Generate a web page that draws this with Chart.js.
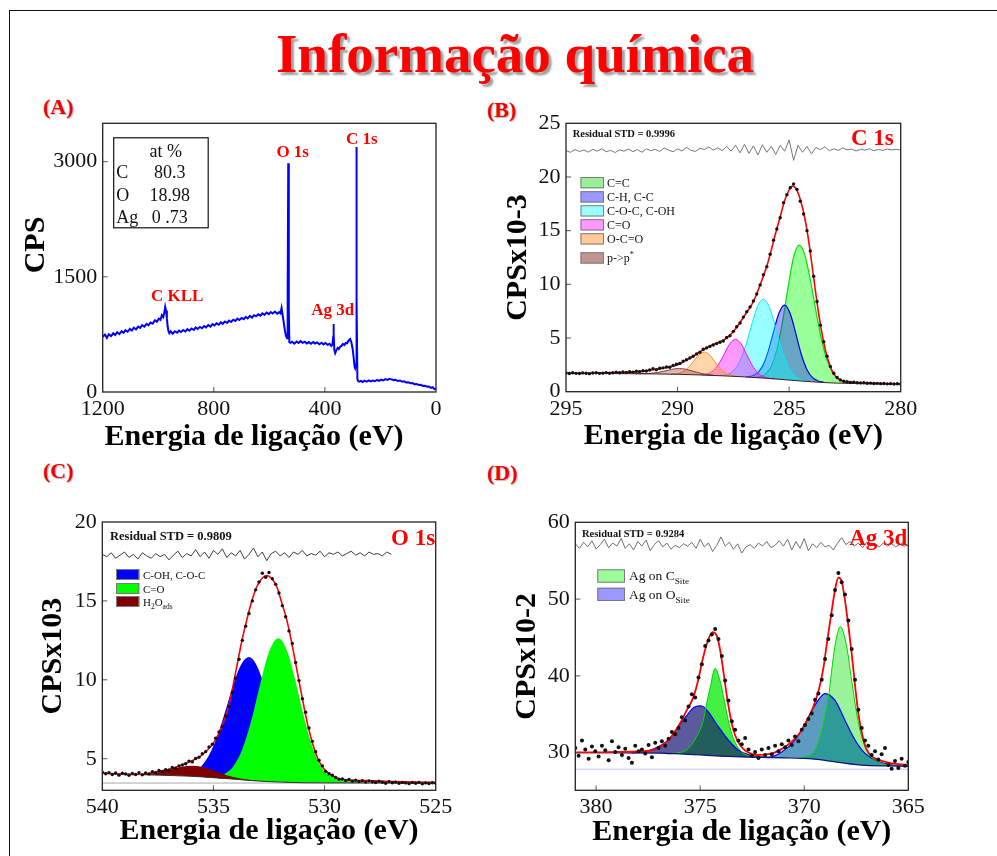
<!DOCTYPE html>
<html lang="pt">
<head>
<meta charset="utf-8">
<title>Informação química</title>
<script src="https://cdn.jsdelivr.net/npm/chart.js@4.4.1/dist/chart.umd.min.js"></script>
<style>
  html, body { margin: 0; padding: 0; background: #fff; }
  body { position: relative; width: 997px; height: 856px; overflow: hidden; }
  .frame { position: absolute; left: 9px; top: 10px; width: 1000px; height: 860px; border-left: 1.5px solid #111; border-top: 1.5px solid #111; }
  .title { position: absolute; left: 515px; top: 26px; transform: translateX(-50%); white-space: nowrap; font: bold 55px/55px 'Liberation Serif', serif; color: #ff0000; text-shadow: 3px 3px 2px #a0a0a0; }
  .tag { position: absolute; font: bold 22px/22px 'Liberation Serif', serif; color: #f00000; text-shadow: 1px 1px 1px #b8b8b8; }
  canvas { position: absolute; }
</style>
</head>
<body>
<div class="frame"></div>
<div class="title">Informação química</div>
<div class="tag" style="left:43px;top:96px">(A)</div>
<div class="tag" style="left:487px;top:99px">(B)</div>
<div class="tag" style="left:43px;top:460px">(C)</div>
<div class="tag" style="left:487px;top:462px">(D)</div>
<canvas id="survey" width="460" height="356" style="left:0;top:100px"></canvas>
<canvas id="c1s" width="517" height="356" style="left:480px;top:100px"></canvas>
<canvas id="o1s" width="460" height="386" style="left:0;top:470px"></canvas>
<canvas id="ag3d" width="517" height="386" style="left:480px;top:470px"></canvas>
<script>
const FONT = "'Liberation Serif', 'DejaVu Serif', serif";

// ---- (A) survey spectrum: [binding energy eV, CPS] ----
const surveyTicksX = [1200, 800, 400, 0];
const surveyTicksY = [0, 1500, 3000];
const survey = [
  [1200,720],[1192,748],[1185,705],[1178,752],[1170,728],[1162,765],[1155,742],[1148,778],[1140,755],[1132,792],
  [1125,770],[1118,805],[1110,785],[1102,822],[1095,800],[1088,838],[1080,815],[1072,852],[1065,835],[1058,870],
  [1050,852],[1042,888],[1035,868],[1028,905],[1020,890],[1012,935],[1005,915],[998,955],[992,940],[987,1000],
  [982,975],[978,1040],[975,1110],[972,1060],[969,960],[966,850],[963,790],[960,765],[955,790],[948,760],
  [940,792],[932,772],[925,800],[918,782],[910,808],[902,788],[895,818],[888,798],[880,828],[872,808],
  [865,840],[858,820],[850,848],[842,830],[835,860],[828,842],[820,872],[812,852],[805,885],[798,866],
  [790,895],[782,876],[775,908],[768,888],[760,918],[752,900],[745,930],[738,912],[730,942],[722,925],
  [715,955],[708,938],[700,965],[692,948],[685,978],[678,958],[670,992],[662,970],[655,1000],[648,985],
  [640,1012],[632,995],[625,1025],[618,1005],[610,1035],[602,1015],[595,1042],[588,1022],[580,1048],[572,1020],
  [565,1040],[560,1025],[556,1095],[552,1000],[548,900],[544,800],[540,730],[536,700],[534,1300],[532,2980],
  [530,1100],[528,650],[524,640],[518,655],[510,630],[502,658],[495,638],[488,662],[480,640],[472,655],
  [465,632],[458,650],[450,628],[442,652],[435,632],[428,645],[420,622],[412,642],[405,620],[398,638],
  [390,615],[383,628],[377,600],[373,615],[370,720],[369,885],[368,760],[366,545],[363,505],[358,550],
  [354,575],[350,560],[345,590],[340,600],[335,625],[330,612],[325,640],[320,635],[316,662],[312,680],
  [309,690],[305,650],[300,560],[296,430],[293,330],[291,310],[288,360],[287,1500],[286,3190],[285,1200],
  [283,170],[280,140],[276,135],[270,145],[264,130],[258,148],[250,135],[242,152],[235,138],[228,150],
  [220,140],[212,158],[205,145],[198,160],[190,150],[182,168],[175,158],[168,172],[160,165],[153,155],
  [146,160],[138,145],[130,150],[122,135],[115,140],[108,125],[100,128],[92,115],[85,118],[78,102],
  [70,105],[62,92],[55,95],[48,80],[40,82],[32,70],[25,72],[18,55],[12,62],[6,38],[0,45]
];
const surveyPeaks = [
  { text: 'C KLL', e: 932, cps: 1237 },
  { text: 'O 1s', e: 516, cps: 3113 },
  { text: 'Ag 3d', e: 372, cps: 1062 },
  { text: 'C 1s', e: 267, cps: 3282 }
];
const composition = [['C', '80.3'], ['O', '18.98'], ['Ag', '0 .73']];

// ---- (B) C 1s ----
const c1sTicksX = [295, 290, 285, 280];
const c1sTicksY = [0, 5, 10, 15, 20, 25];
// measured counts, 295 -> 280 eV every 0.15 eV
const c1sCounts = [
  1.74, 1.70, 1.76, 1.71, 1.69, 1.75, 1.72, 1.68, 1.74, 1.77,
  1.71, 1.73, 1.78, 1.72, 1.76, 1.81, 1.77, 1.83, 1.80, 1.86,
  1.82, 1.90, 1.87, 1.95, 1.93, 2.02, 2.15, 2.05, 2.18, 2.22,
  2.30, 2.28, 2.45, 2.55, 2.62, 2.85, 2.98, 3.15, 3.30, 3.52,
  3.68, 3.95, 4.08, 4.22, 4.35, 4.48, 4.60, 4.72, 5.05, 5.20,
  5.62, 6.05, 6.40, 6.95, 7.45, 7.90, 8.45, 9.10, 9.95, 10.90,
  11.65, 12.80, 14.10, 15.15, 16.20, 17.60, 18.35, 19.00, 19.35, 18.85,
  17.75, 16.55, 15.00, 13.10, 10.75, 8.40, 6.20, 4.65, 3.30, 2.35,
  1.72, 1.32, 1.10, 0.98, 0.92, 0.86, 0.88, 0.83, 0.82, 0.84,
  0.79, 0.80, 0.76, 0.78, 0.75, 0.76, 0.73, 0.75, 0.72, 0.74,
  0.71
];
// residual trace, 295 -> 280 eV every 0.2 eV
const c1sResidual = [
  22.45, 22.30, 22.55, 22.38, 22.50, 22.32, 22.58, 22.40, 22.62, 22.35,
  22.48, 22.28, 22.52, 22.40, 22.60, 22.36, 22.55, 22.30, 22.62, 22.45,
  22.58, 22.38, 22.70, 22.50, 22.35, 22.62, 22.42, 22.75, 22.48, 22.38,
  22.68, 22.55, 22.80, 22.50, 22.72, 22.45, 22.85, 22.40, 22.95, 22.25,
  23.05, 22.20, 22.90, 22.05, 23.00, 22.30, 22.85, 22.10, 22.95, 22.40,
  23.45, 21.55, 22.95, 22.30, 22.85, 22.15, 22.75, 22.55, 22.80, 22.45,
  22.62, 22.48, 22.70, 22.52, 22.60, 22.42, 22.58, 22.50, 22.62, 22.45,
  22.56, 22.48, 22.60, 22.52, 22.58, 22.50
];
const c1sFit = [
  [295,1.72],[294,1.72],[293,1.75],[292,1.83],[291.5,1.92],[291,2.06],[290.5,2.25],[290,2.52],[289.5,3.05],[289,3.70],
  [288.7,4.10],[288.4,4.40],[288.1,4.65],[287.8,5.00],[287.5,5.60],[287.2,6.45],[286.9,7.40],[286.6,8.40],[286.3,9.95],[286.0,11.70],
  [285.8,13.20],[285.6,14.80],[285.4,16.30],[285.2,17.80],[285.0,18.80],[284.85,19.15],[284.7,18.95],[284.5,17.90],[284.3,16.20],[284.1,13.70],
  [283.9,10.60],[283.7,7.60],[283.5,5.10],[283.3,3.25],[283.1,2.05],[282.9,1.40],[282.6,1.02],[282.2,0.88],[281.5,0.80],[281,0.77],[280,0.72]
];
const c1sBackground = [
  [295,1.70],[293,1.69],[291,1.66],[290,1.62],[289,1.56],[288,1.48],[287,1.38],[286,1.25],[285.5,1.17],
  [285,1.08],[284.5,1.00],[284,0.93],[283.5,0.86],[283,0.81],[282,0.76],[281,0.73],[280,0.72]
];
const c1sCC = [[286.55,1.33],[286.30,1.40],[286.05,1.66],[285.80,2.37],[285.55,3.89],[285.30,6.45],[285.05,9.70],[284.80,12.53],[284.55,13.66],
  [284.30,12.75],[284.05,10.43],[283.80,7.53],[283.55,4.88],[283.30,2.94],[283.05,1.77],[282.80,1.18],[282.55,0.91],[282.30,0.81]];
const c1sCH = [[286.95,1.37],[286.70,1.45],[286.45,1.70],[286.20,2.36],[285.95,3.69],[285.70,5.58],[285.45,7.35],[285.20,8.07],
  [284.95,7.26],[284.70,5.41],[284.45,3.44],[284.20,2.05],[283.95,1.31],[283.70,1.00],[283.45,0.88]];
const c1sCOC = [[288.15,1.49],[287.90,1.54],[287.65,1.71],[287.40,2.18],[287.15,3.12],[286.90,4.62],[286.65,6.45],[286.40,8.01],[286.15,8.61],
  [285.90,7.94],[285.65,6.32],[285.40,4.42],[285.15,2.85],[284.90,1.84],[284.65,1.31],[284.40,1.08],[284.15,0.96]];
const c1sCO = [[288.90,1.55],[288.65,1.67],[288.40,1.97],[288.15,2.60],[287.90,3.55],[287.65,4.49],[287.40,4.88],
  [287.15,4.44],[286.90,3.45],[286.65,2.44],[286.40,1.75],[286.15,1.40],[285.90,1.25],[285.65,1.19]];
const c1sOCO = [[290.30,1.64],[290.05,1.67],[289.80,1.82],[289.55,2.18],[289.30,2.79],[289.05,3.42],[288.80,3.69],
  [288.55,3.39],[288.30,2.72],[288.05,2.08],[287.80,1.68],[287.55,1.51],[287.30,1.43]];
const c1sPi = [[291.90,1.67],[291.40,1.68],[291.15,1.72],[290.90,1.78],[290.65,1.89],[290.40,2.01],[290.15,2.12],[289.90,2.15],
  [289.65,2.10],[289.40,1.96],[289.15,1.82],[288.90,1.68],[288.65,1.60],[288.40,1.53]];
const c1sNames = ['C=C', 'C-H, C-C', 'C-O-C, C-OH', 'C=O', 'O-C=O', 'p->p'];

// ---- (C) O 1s ----
const o1sTicksX = [540, 535, 530, 525];
const o1sTicksY = [5, 10, 15, 20];
// measured counts, 540 -> 525 eV every 0.15 eV
const o1sCounts = [
  4.15, 4.05, 4.12, 4.00, 4.10, 3.96, 4.08, 4.03, 3.95, 4.06,
  4.00, 4.12, 3.98, 4.10, 4.04, 4.18, 4.12, 4.25, 4.20, 4.31,
  4.27, 4.45, 4.38, 4.55, 4.60, 4.68, 4.85, 4.80, 5.02, 5.10,
  5.32, 5.45, 5.75, 5.92, 6.30, 6.70, 7.05, 7.70, 8.30, 9.20,
  10.10, 11.30, 12.50, 13.40, 14.20, 15.00, 15.70, 16.20, 16.75, 16.50,
  16.80, 16.40, 16.05, 15.50, 14.70, 14.00, 13.10, 12.30, 11.10, 9.95,
  8.80, 7.95, 6.95, 6.10, 5.45, 4.90, 4.55, 4.20, 4.05, 3.95,
  3.82, 3.70, 3.72, 3.62, 3.68, 3.58, 3.64, 3.55, 3.61, 3.52,
  3.60, 3.54, 3.49, 3.57, 3.51, 3.45, 3.55, 3.48, 3.52, 3.44,
  3.50, 3.47, 3.42, 3.49, 3.45, 3.50, 3.41, 3.47, 3.43, 3.48,
  3.44
];
// residual trace, 540 -> 525 eV every 0.2 eV
const o1sResidual = [
  17.95, 17.80, 18.05, 17.70, 17.90, 18.10, 17.75, 17.95, 17.65, 18.05,
  17.85, 17.70, 18.00, 17.80, 17.95, 17.60, 17.90, 18.15, 17.75, 18.00,
  17.85, 18.25, 17.80, 18.10, 17.70, 18.20, 17.95, 18.30, 17.75, 18.05,
  17.85, 18.20, 17.65, 17.95, 18.35, 17.80, 18.10, 17.55, 18.00, 18.15,
  17.85, 18.05, 17.75, 18.10, 17.95, 18.20, 17.85, 18.00, 17.90, 18.15,
  17.80, 18.05, 17.95, 18.10, 17.85, 18.00, 18.15, 17.90, 18.05, 17.85,
  18.10, 17.95, 18.00, 17.85, 18.10, 17.95
];
const o1sFit = [
  [540,4.09],[539,4.02],[538.6,4.00],[538,4.05],[537.4,4.20],[536.8,4.42],[536.2,4.73],[535.6,5.15],[535.0,5.99],[534.7,6.80],
  [534.4,7.89],[534.15,9.40],[533.95,10.84],[533.7,12.60],[533.5,13.80],[533.25,15.10],[533.05,15.90],[532.8,16.45],[532.6,16.60],[532.4,16.45],
  [532.15,15.90],[531.95,15.00],[531.7,13.80],[531.5,12.50],[531.33,11.27],[531.15,9.90],[530.96,8.53],[530.75,7.10],[530.5,5.78],[530.3,5.00],
  [530.06,4.41],[529.8,4.05],[529.46,3.78],[529.0,3.66],[528.1,3.61],[527,3.56],[526,3.52],[525,3.50]
];
const o1sBackground = [
  [540,4.07],[539,4.02],[538,3.98],[537,3.94],[536,3.89],[535.5,3.85],[535,3.80],[534.5,3.75],[534,3.70],
  [533.5,3.64],[533,3.59],[532.5,3.55],[532,3.52],[531.5,3.50],[531,3.48],[530,3.47],[525,3.46]
];
const o1sOffset = [[540,3.46],[525,3.46]];
const o1sCOH = [[536.8,3.91],[536.4,3.94],[536.0,4.10],[535.6,4.44],[535.2,5.22],[534.8,6.53],[534.4,8.32],[534.0,10.14],[533.7,11.09],[533.4,11.44],
  [533.1,11.04],[532.8,10.02],[532.4,8.13],[532.0,6.27],[531.6,4.90],[531.2,4.08],[530.8,3.69],[530.4,3.53]];
const o1sCO = [[535.3,3.85],[534.9,3.87],[534.5,4.04],[534.1,4.53],[533.7,5.60],[533.3,7.41],[532.9,9.71],[532.5,11.77],[532.08,12.64],
  [531.7,11.88],[531.3,9.86],[530.9,7.49],[530.5,5.56],[530.1,4.37],[529.7,3.87],[529.3,3.67],[528.9,3.57],[528.5,3.52],[528.0,3.47]];
const o1sH2O = [[539.4,4.04],[539.0,4.03],[538.5,4.02],[538.0,4.05],[537.5,4.15],[537.0,4.31],[536.5,4.48],[535.9,4.56],
  [535.4,4.44],[534.9,4.20],[534.4,3.96],[533.9,3.78],[533.4,3.67],[532.9,3.59],[532.4,3.55]];
const o1sNames = ['C-OH, C-O-C', 'C=O'];

// ---- (D) Ag 3d ----
const ag3dTicksX = [380, 375, 370, 365];
const ag3dTicksY = [30, 40, 50, 60];
// measured counts, 381 -> 365 eV every 0.16 eV
const ag3dCounts = [
  30.6, 29.6, 31.6, 30.4, 29.2, 30.8, 30.2, 29.5, 30.9, 30.3,
  29.0, 31.5, 30.1, 30.7, 29.7, 30.5, 29.3, 28.7, 30.9, 30.2,
  30.4, 29.9, 31.0, 29.4, 31.3, 30.6, 31.5, 30.9, 31.8, 32.7,
  32.4, 33.2, 34.6, 34.2, 36.0, 37.6, 37.2, 39.8, 41.5, 43.9,
  44.6, 45.4, 46.1, 44.8, 42.6, 39.4, 36.8, 34.1, 33.0, 31.6,
  31.1, 31.9, 30.4, 29.6, 30.1, 29.3, 30.4, 29.7, 30.6, 29.8,
  30.9, 30.2, 31.1, 30.7, 31.6, 31.0, 32.1, 31.5, 33.0, 33.6,
  34.4, 35.1, 36.9, 37.7, 39.5, 42.2, 44.8, 47.9, 51.2, 53.4,
  52.2, 50.6, 47.2, 43.5, 39.5, 35.6, 33.2, 31.6, 30.9, 29.7,
  30.2, 29.1, 29.8, 30.6, 28.4, 27.9, 28.9, 28.0, 29.2, 28.3,
  28.8
];
// residual trace, 381 -> 365 eV every 0.2 eV
const ag3dResidual = [
  57.2, 56.6, 57.4, 56.8, 57.6, 56.5, 57.1, 57.8, 56.7, 57.3,
  56.9, 57.9, 56.6, 57.2, 56.4, 57.5, 56.9, 57.7, 56.3, 57.1,
  57.6, 56.8, 57.3, 56.5, 57.0, 56.7, 57.2, 56.9, 57.4, 56.6,
  57.8, 56.8, 57.3, 56.2, 57.0, 58.1, 56.9, 57.4, 56.5, 57.2,
  56.0, 56.8, 57.1, 56.6, 57.3, 56.9, 57.5, 56.7, 57.0, 57.6,
  56.9, 57.8, 56.4, 57.5, 56.6, 57.9, 56.3, 57.2, 56.7, 57.4,
  56.8, 57.0, 56.4, 57.3, 58.0, 57.1, 57.5, 56.9, 57.3, 56.7,
  57.4, 56.9, 57.2, 56.8, 57.3, 56.9, 57.2, 56.8, 57.1, 56.9,
  57.0
];
const ag3dFit = [
  [381,30.05],[380,30.05],[379,30.1],[378,30.15],[377.25,30.35],[376.9,30.8],[376.6,31.43],[376.3,32.4],[375.97,33.8],[375.65,35.5],
  [375.33,37.2],[375.1,39.4],[374.85,42.5],[374.6,44.8],[374.4,45.7],[374.2,45.2],[374.05,43.5],[373.88,40.5],[373.73,37.6],[373.57,35.0],
  [373.41,33.0],[373.2,31.5],[372.93,30.5],[372.6,29.9],[372.29,29.7],[371.9,29.75],[371.49,29.95],[371.2,30.3],[370.84,30.9],[370.5,31.7],
  [370.2,32.6],[369.9,34.0],[369.56,36.0],[369.3,38.2],[369.08,41.0],[368.9,44.5],[368.68,48.5],[368.5,51.5],[368.36,52.8],[368.2,52.3],
  [368.04,49.8],[367.88,46.5],[367.72,42.9],[367.56,38.8],[367.4,35.1],[367.2,32.2],[367.0,30.4],[366.7,29.4],[366.36,29.0],[366.0,28.75],
  [365.5,28.5],[365,28.4]
];
const ag3dBackground = [
  [381,30.0],[377,29.95],[376,29.85],[375,29.7],[374,29.55],[373,29.45],[372,29.38],[371,29.32],[370,29.25],
  [369.5,29.15],[369,29.0],[368.5,28.8],[368,28.6],[367.5,28.45],[367,28.35],[366,28.28],[365,28.25]
];
const ag3dOffset = [[381,27.85],[365,27.85]];
const ag3dOSite32 = [[378.3,29.97],[377.8,30.10],[377.17,30.57],[376.53,31.65],[376.05,33.4],[375.57,35.1],[375.3,35.9],[375.0,36.1],
  [374.8,35.9],[374.61,35.3],[374.13,33.4],[373.65,31.65],[373.17,30.35],[372.69,29.75],[372.2,29.45],[371.7,29.35]];
const ag3dCSite32 = [[376.6,29.82],[376.2,29.95],[375.65,30.35],[375.17,32.1],[374.85,34.2],[374.69,36.4],[374.51,38.57],[374.29,40.96],
  [374.05,39.4],[373.84,36.8],[373.65,34.2],[373.41,31.9],[373.09,30.35],[372.69,29.6],[372.2,29.42]];
const ag3dOSite52 = [[372.2,29.38],[371.7,29.42],[371.08,30.1],[370.44,31.65],[369.96,33.8],[369.48,36.2],[369.0,37.7],
  [368.52,36.8],[368.04,34.2],[367.56,31.65],[367.08,29.9],[366.6,29.05],[366.0,28.5],[365.5,28.3],[365.0,28.26]];
const ag3dCSite52 = [[370.3,29.22],[369.96,29.4],[369.48,30.35],[369.16,32.9],[368.81,37.7],[368.68,40.74],[368.53,43.8],[368.27,46.4],
  [367.96,43.8],[367.72,39.4],[367.48,35.1],[367.24,32.1],[366.92,29.9],[366.44,28.8],[366.0,28.4],[365.5,28.3]];

// ---- helpers ----
const pts = list => list.map(([x, y]) => ({ x, y }));
const channels = (start, step, values) => values.map((y, i) => ({ x: start - i * step, y }));

function xAxis(min, max, ticks, height, title) {
  return {
    type: 'linear', reverse: true, min, max,
    afterBuildTicks: s => { s.ticks = ticks.map(v => ({ value: v })); },
    afterFit: s => { s.height = height; },
    grid: { display: false, drawTicks: false },
    border: { display: false },
    ticks: { color: '#111', font: { family: FONT, size: 22 }, padding: 4, maxRotation: 0, autoSkip: false, callback: v => String(v) },
    title: { display: !!title, text: title, color: '#000', font: { family: FONT, size: 30, weight: 'bold' }, padding: 0 }
  };
}
function yAxis(min, max, ticks, width, title) {
  return {
    type: 'linear', min, max,
    afterBuildTicks: s => { s.ticks = ticks.map(v => ({ value: v })); },
    afterFit: s => { s.width = width; },
    grid: { display: false, drawTicks: false },
    border: { display: false },
    ticks: { color: '#111', font: { family: FONT, size: 22 }, padding: 5.5, autoSkip: false, callback: v => String(v) },
    title: { display: !!title, text: title, color: '#000', font: { family: FONT, size: 30, weight: 'bold' }, padding: 0 }
  };
}
function options(padding, x, y) {
  return {
    responsive: false, animation: false, events: [],
    layout: { padding },
    scales: { x, y },
    plugins: { legend: { display: false }, tooltip: { enabled: false } }
  };
}
function line(data, color, width, order, extra) {
  return Object.assign({ data, borderColor: color, borderWidth: width, pointRadius: 0, fill: false, order }, extra || {});
}
function peak(data, color, width, fillColor, fill, order) {
  return { data: pts(data), borderColor: color, borderWidth: width, backgroundColor: fillColor, fill,
    pointRadius: 0, cubicInterpolationMode: 'monotone', order };
}
function dots(data, radius, order) {
  return { data, showLine: false, pointRadius: radius, pointBackgroundColor: '#111', pointBorderWidth: 0, order };
}
function label(ctx, str, x, y, font, color, align, baseline) {
  ctx.font = font; ctx.fillStyle = color;
  ctx.textAlign = align || 'left'; ctx.textBaseline = baseline || 'alphabetic';
  ctx.fillText(str, x, y);
  return ctx.measureText(str).width;
}
function rich(ctx, parts, x, y, size, color) {
  let cx = x;
  parts.forEach(([s, kind]) => {
    const f = kind ? size * 0.68 : size;
    const dy = kind === 'sub' ? size * 0.28 : kind === 'sup' ? -size * 0.45 : 0;
    cx += label(ctx, s, cx, y + dy, `${f}px ${FONT}`, color);
  });
}
function swatch(ctx, x, y, w, h, fill) {
  ctx.fillStyle = fill; ctx.fillRect(x, y, w, h);
  ctx.strokeStyle = '#7a7a7a'; ctx.lineWidth = 1; ctx.strokeRect(x + 0.5, y + 0.5, w - 1, h - 1);
}

// inward tick marks and the plot frame
const framePlugin = {
  id: 'frame',
  afterDatasetsDraw(chart) {
    const { ctx, chartArea: a, scales: { x, y } } = chart;
    ctx.save();
    ctx.strokeStyle = '#555'; ctx.lineWidth = 1;
    ctx.beginPath();
    x.ticks.forEach(t => {
      const px = x.getPixelForValue(t.value);
      if (px > a.left + 2 && px < a.right - 2) { ctx.moveTo(px, a.bottom); ctx.lineTo(px, a.bottom - 5); }
    });
    y.ticks.forEach(t => {
      const py = y.getPixelForValue(t.value);
      if (py > a.top + 2 && py < a.bottom - 2) { ctx.moveTo(a.left, py); ctx.lineTo(a.left + 5, py); }
    });
    ctx.stroke();
    ctx.strokeStyle = '#222'; ctx.lineWidth = 1.3;
    ctx.strokeRect(a.left, a.top, a.right - a.left, a.bottom - a.top);
    ctx.restore();
  }
};

// ---- (A) ----
const surveyNotes = {
  id: 'surveyNotes',
  afterDraw(chart) {
    const { ctx, chartArea: a, scales: { x, y } } = chart;
    ctx.save();
    surveyPeaks.forEach(p => label(ctx, p.text, x.getPixelForValue(p.e), y.getPixelForValue(p.cps),
      `bold 17px ${FONT}`, '#ff0000', 'center', 'middle'));
    const bx = a.left + 11, by = a.top + 14.5;
    ctx.strokeStyle = '#111'; ctx.lineWidth = 1.2;
    ctx.strokeRect(bx, by, 94.5, 90);
    label(ctx, 'at %', bx + 52, by + 19.5, `18px ${FONT}`, '#111', 'center');
    composition.forEach(([el, v], i) => {
      label(ctx, el, bx + 2.5, by + 40.5 + i * 22.5, `18px ${FONT}`, '#111');
      label(ctx, v, bx + 56, by + 40.5 + i * 22.5, `18px ${FONT}`, '#111', 'center');
    });
    // axis titles sit a little off-centre in the original
    label(ctx, 'Energia de ligação (eV)', a.left + 151.3, a.bottom + 52.5, `bold 30px ${FONT}`, '#000', 'center');
    ctx.translate(a.left - 66.7, a.top + 121.7);
    ctx.rotate(-Math.PI / 2);
    label(ctx, 'CPS', 0, 0, `bold 30px ${FONT}`, '#000', 'center', 'middle');
    ctx.restore();
  }
};

new Chart(document.getElementById('survey'), {
  type: 'line',
  data: { datasets: [line(pts(survey), '#0000ff', 2, 0)] },
  options: options({ left: 19.2, right: 24, top: 23.3, bottom: 1 },
    xAxis(0, 1200, surveyTicksX, 63, ''), yAxis(0, 3500, surveyTicksY, 83.5, '')),
  plugins: [framePlugin, surveyNotes]
});

// ---- (B) ----
const c1sSwatches = ['#99f099', '#9999ff', '#99ffff', '#ff99ff', '#ffcc99', '#c49494'];
const c1sNotes = {
  id: 'c1sNotes',
  afterDraw(chart) {
    const { ctx, chartArea: a } = chart;
    ctx.save();
    label(ctx, 'Residual STD = 0.9996', a.left + 6.7, a.top + 13.7, `bold 10.5px ${FONT}`, '#111');
    label(ctx, 'C 1s', a.right - 7, a.top + 21.7, `bold 23px ${FONT}`, '#ff0000', 'right');
    const rows = [53.7, 67.9, 81.9, 95.9, 109.9, 129];
    c1sNames.forEach((name, i) => {
      const top = a.top + rows[i];
      swatch(ctx, a.left + 14.5, top, 23.5, 11.3, c1sSwatches[i]);
      const parts = i === 5 ? [[name], ['*', 'sup']] : [[name]];
      rich(ctx, parts, a.left + 41, top + 10, 12, '#111');
    });
    ctx.restore();
  }
};

new Chart(document.getElementById('c1s'), {
  type: 'line',
  data: { datasets: [
    line(pts(c1sBackground), '#3b2020', 1, 2.5, { cubicInterpolationMode: 'monotone' }),
    dots(channels(295, 0.15, c1sCounts), 1.7, 0),
    line(pts(c1sFit), '#ff0000', 1.6, 1, { cubicInterpolationMode: 'monotone' }),
    line(channels(295, 0.2, c1sResidual), '#777', 1, 2),
    peak(c1sPi, '#8b3a3a', 1, 'rgba(139,58,58,0.35)', 0, 3),
    peak(c1sOCO, '#ff8c1a', 1, 'rgba(255,150,40,0.4)', 0, 4),
    peak(c1sCO, '#ff00ff', 1, 'rgba(255,0,255,0.4)', 0, 5),
    peak(c1sCOC, '#00e8ff', 1, 'rgba(0,255,255,0.4)', 0, 6),
    peak(c1sCH, '#0000dd', 1.2, 'rgba(30,30,255,0.4)', 0, 7),
    peak(c1sCC, '#00e000', 1.2, 'rgba(0,255,0,0.4)', 0, 8)
  ] },
  options: options({ left: 20, right: 96.3, top: 23.3, bottom: 1.6 },
    xAxis(280, 295, c1sTicksX, 62.7, 'Energia de ligação (eV)'), yAxis(0, 25, c1sTicksY, 66, 'CPSx10-3')),
  plugins: [framePlugin, c1sNotes]
});

// ---- (C) ----
const o1sNotes = {
  id: 'o1sNotes',
  afterDraw(chart) {
    const { ctx, chartArea: a } = chart;
    ctx.save();
    label(ctx, 'Residual STD = 0.9809', a.left + 7.7, a.top + 18, `bold 12.5px ${FONT}`, '#111');
    label(ctx, 'O 1s', a.right - 0.5, a.top + 23, `bold 23px ${FONT}`, '#ff0000', 'right');
    const rows = [47, 61, 74];
    const fills = ['#0000ff', '#00ff00', '#800000'];
    const names = [[[o1sNames[0]]], [[o1sNames[1]]], [['H'], ['2', 'sub'], ['O'], ['ads', 'sub']]];
    rows.forEach((r, i) => {
      swatch(ctx, a.left + 13.7, a.top + r, 23.3, 11, fills[i]);
      rich(ctx, names[i], a.left + 40.7, a.top + r + 9.5, 11, '#111');
    });
    ctx.restore();
  }
};

new Chart(document.getElementById('o1s'), {
  type: 'line',
  data: { datasets: [
    line(pts(o1sBackground), '#333', 1, 3, { cubicInterpolationMode: 'monotone' }),
    dots(channels(540, 0.15, o1sCounts), 1.7, 0),
    line(pts(o1sFit), '#ff0000', 1.6, 1, { cubicInterpolationMode: 'monotone' }),
    line(channels(540, 0.2, o1sResidual), '#3c3c3c', 1, 2),
    line(pts(o1sOffset), '#aaa', 1, 3.5),
    peak(o1sH2O, '#800000', 0, '#800000', 0, 4),
    peak(o1sCO, '#00ff00', 0, '#00ff00', 0, 5),
    peak(o1sCOH, '#0000ff', 0, '#0000ff', 0, 6)
  ] },
  options: options({ left: 35, right: 24.3, top: 52, bottom: 6.6 },
    xAxis(525, 540, o1sTicksX, 59.1, 'Energia de ligação (eV)'), yAxis(3.0, 20, o1sTicksY, 67.3, 'CPSx103')),
  plugins: [framePlugin, o1sNotes]
});

// ---- (D) ----
const ag3dNotes = {
  id: 'ag3dNotes',
  afterDraw(chart) {
    const { ctx, chartArea: a } = chart;
    ctx.save();
    label(ctx, 'Residual STD = 0.9284', a.left + 6.7, a.top + 14.7, `bold 10.5px ${FONT}`, '#111');
    label(ctx, 'Ag 3d', a.right - 1, a.top + 23, `bold 23px ${FONT}`, '#ff0000', 'right');
    swatch(ctx, a.left + 22, a.top + 47, 27.7, 13.4, '#99ff99');
    swatch(ctx, a.left + 22, a.top + 65.4, 27.7, 13.3, '#9999ff');
    rich(ctx, [['Ag on C'], ['Site', 'sub']], a.left + 53.7, a.top + 58, 13.5, '#111');
    rich(ctx, [['Ag on O'], ['Site', 'sub']], a.left + 53.7, a.top + 76.5, 13.5, '#111');
    ctx.restore();
  }
};

const clear = 'rgba(0,0,0,0)';
new Chart(document.getElementById('ag3d'), {
  type: 'line',
  data: { datasets: [
    line(pts(ag3dBackground), '#10107a', 1.2, 3, { cubicInterpolationMode: 'monotone' }),
    dots(channels(381, 0.16, ag3dCounts), 2, 0),
    line(pts(ag3dFit), '#ff0000', 1.8, 1, { cubicInterpolationMode: 'monotone' }),
    line(channels(381, 0.2, ag3dResidual), '#707070', 1, 2),
    line(pts(ag3dOffset), '#c4c4f2', 1, 3.5),
    // 5-7: 3d3/2 doublet fills
    peak(ag3dOSite32, clear, 0, '#5a5a9c', 0, 13),
    peak(ag3dCSite32, clear, 0, '#215e5c', 0, 12),
    peak(ag3dCSite32, clear, 0, clear, { target: 5, above: '#44f044', below: clear }, 11),
    // 8-10: 3d5/2 doublet fills
    peak(ag3dOSite52, clear, 0, '#5c9cc0', 0, 10),
    peak(ag3dCSite52, clear, 0, '#2f9b98', 0, 9),
    peak(ag3dCSite52, clear, 0, clear, { target: 8, above: '#9af59a', below: clear }, 8),
    // component outlines
    peak(ag3dOSite32, '#0000ff', 1.2, clear, false, 6),
    peak(ag3dOSite52, '#0000ff', 1.2, clear, false, 6),
    peak(ag3dCSite32, '#00dd00', 1, clear, false, 5),
    peak(ag3dCSite52, '#00dd00', 1, clear, false, 5)
  ] },
  options: options({ left: 29, right: 88.7, top: 52.3, bottom: 5.6 },
    xAxis(365, 381, ag3dTicksX, 60.1, 'Energia de ligação (eV)'), yAxis(25.1, 60, ag3dTicksY, 66.3, 'CPSx10-2')),
  plugins: [framePlugin, ag3dNotes]
});
</script>
</body>
</html>
